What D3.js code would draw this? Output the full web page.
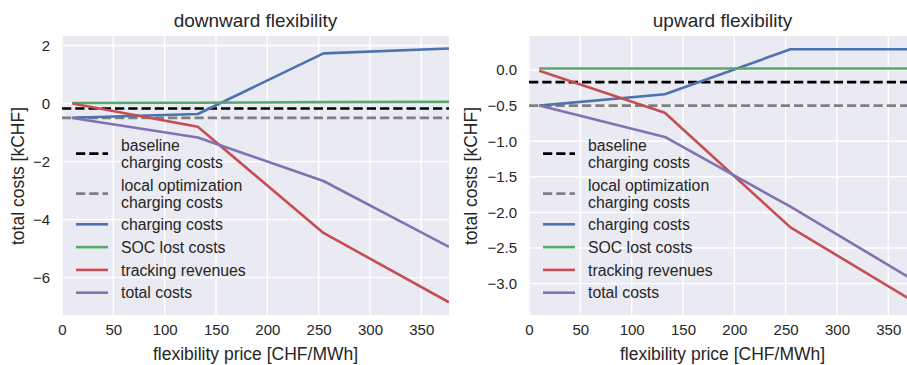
<!DOCTYPE html>
<html>
<head>
<meta charset="utf-8">
<script src="https://cdn.jsdelivr.net/npm/d3@7"></script>
<style>
  body { margin: 0; background: #ffffff; }
  svg { display: block; font-family: "Liberation Sans", Arial, sans-serif; }
</style>
</head>
<body>
<svg id="chart" width="907" height="365"></svg>
<script>
// flexibility prices [CHF/MWh] at which the runs were made
const flexPrices = [10, 132.3, 254.7, 377];
const xTicks = [0, 50, 100, 150, 200, 250, 300, 350];

// downward flexibility [kCHF]
const downCharging = [-0.49, -0.36, 1.73, 1.90];
const downSOC = [0.02, 0.03, 0.05, 0.06];
const downTracking = [0.0, -0.80, -4.46, -6.85];
const downTotal = [-0.50, -1.17, -2.67, -4.94];
const downBaseline = -0.17;
const downLocal = -0.49;
const downYTicks = [-6, -4, -2, 0, 2];

// upward flexibility [kCHF]
const upCharging = [-0.50, -0.34, 0.29, 0.29];
const upSOC = [0.02, 0.02, 0.02, 0.02];
const upTracking = [-0.01, -0.60, -2.21, -3.27];
const upTotal = [-0.50, -0.94, -1.92, -2.97];
const upBaseline = -0.17;
const upLocal = -0.50;
const upYTicks = [-3.0, -2.5, -2.0, -1.5, -1.0, -0.5, 0.0];

const seriesNames = ["charging costs", "SOC lost costs", "tracking revenues", "total costs"];
const seriesColors = ["#4C72B0", "#55A868", "#C44E52", "#8172B2"];

var svg = d3.select("#chart");

/**
 * Draws one panel: background, grid, reference lines, series, legend, labels.
 */
function drawPanel(opts) {
  var g = svg.append("g");

  var xScale = d3.scaleLinear()
    .domain([0, 377])
    .range([opts.left, opts.left + 387]);

  var yScale = d3.scaleLinear()
    .domain(opts.yDomain)
    .range([315, 36]);

  var plotW = 387, plotH = 279;

  g.append("rect")
    .attr("x", opts.left)
    .attr("y", 36)
    .attr("width", plotW)
    .attr("height", plotH)
    .attr("fill", "#EAEAF2");

  var clipId = "clip-" + opts.key;
  svg.append("clipPath")
    .attr("id", clipId)
    .append("rect")
    .attr("x", opts.left)
    .attr("y", 36)
    .attr("width", plotW)
    .attr("height", plotH);

  // grid
  g.selectAll(".vgrid")
    .data(xTicks)
    .enter().append("line")
    .attr("x1", d => xScale(d))
    .attr("x2", d => xScale(d))
    .attr("y1", 36)
    .attr("y2", 315)
    .attr("stroke", "#ffffff")
    .attr("stroke-width", 1.4);

  g.selectAll(".hgrid")
    .data(opts.yTicks)
    .enter().append("line")
    .attr("x1", opts.left)
    .attr("x2", opts.left + plotW)
    .attr("y1", d => yScale(d))
    .attr("y2", d => yScale(d))
    .attr("stroke", "#ffffff")
    .attr("stroke-width", 1.4);

  // axes (no domain line, no tick marks, like seaborn darkgrid)
  var xAxis = g.append("g")
    .attr("transform", "translate(0,315)")
    .call(d3.axisBottom(xScale).tickValues(xTicks).tickSize(0).tickPadding(9).tickFormat(d3.format("d")));
  var yAxis = g.append("g")
    .attr("transform", "translate(" + opts.left + ",0)")
    .call(d3.axisLeft(yScale).tickValues(opts.yTicks).tickSize(0).tickPadding(12).tickFormat(d3.format(opts.fmt)));
  [xAxis, yAxis].forEach(function(a) {
    a.select(".domain").remove();
    a.selectAll("text")
      .attr("fill", "#262626")
      .style("font-size", "15px")
      .style("font-family", "'Liberation Sans', Arial, sans-serif");
  });

  var plot = g.append("g").attr("clip-path", "url(#" + clipId + ")");

  // reference lines
  plot.append("line")
    .attr("x1", opts.left).attr("x2", opts.left + plotW)
    .attr("y1", yScale(opts.baseline)).attr("y2", yScale(opts.baseline))
    .attr("stroke", "#000000").attr("stroke-width", 2.7)
    .attr("stroke-dasharray", "9.25,4");
  plot.append("line")
    .attr("x1", opts.left).attr("x2", opts.left + plotW)
    .attr("y1", yScale(opts.local)).attr("y2", yScale(opts.local))
    .attr("stroke", "#808080").attr("stroke-width", 2.7)
    .attr("stroke-dasharray", "9.25,4");

  var line = d3.line()
    .x((d, i) => xScale(flexPrices[i]))
    .y(d => yScale(d));

  opts.series.forEach(function(values, i) {
    plot.append("path")
      .datum(values)
      .attr("d", line)
      .attr("fill", "none")
      .attr("stroke", seriesColors[i])
      .attr("stroke-width", 2.6)
      .attr("stroke-linejoin", "round");
  });

  // legend
  var lx0 = opts.left + 14, lx1 = opts.left + 46, tx = opts.left + 59;
  var entries = [
    { lines: ["baseline", "charging costs"], color: "#000000", dash: "9.25,4", y: 153.7, w: 2.7 },
    { lines: ["local optimization", "charging costs"], color: "#808080", dash: "9.25,4", y: 193.7, w: 2.7 }
  ];
  seriesNames.forEach(function(name, i) {
    entries.push({ lines: [name], color: seriesColors[i], dash: null, y: 224.3 + i * 22.8, w: 2.6 });
  });
  var leg = g.append("g");
  entries.forEach(function(e) {
    leg.append("line")
      .attr("x1", lx0).attr("x2", lx1)
      .attr("y1", e.y).attr("y2", e.y)
      .attr("stroke", e.color)
      .attr("stroke-width", e.w)
      .attr("stroke-dasharray", e.dash);
    var off = (e.lines.length - 1) * 17.6 / 2;
    e.lines.forEach(function(t, j) {
      leg.append("text")
        .attr("x", tx)
        .attr("y", e.y - off + j * 17.6)
        .attr("dy", "0.36em")
        .attr("fill", "#262626")
        .style("font-size", "15.8px")
        .text(t);
    });
  });

  // labels
  var cx = opts.left + plotW / 2;
  g.append("text")
    .attr("x", cx).attr("y", 27)
    .style("text-anchor", "middle")
    .style("font-size", "19px")
    .attr("fill", "#262626")
    .text(opts.title);
  g.append("text")
    .attr("x", cx).attr("y", 360)
    .style("text-anchor", "middle")
    .style("font-size", "17.5px")
    .attr("fill", "#262626")
    .text("flexibility price [CHF/MWh]");
  g.append("text")
    .attr("transform", "translate(" + opts.yLabelX + "," + 176 + ") rotate(-90)")
    .style("text-anchor", "middle")
    .style("font-size", "17.5px")
    .attr("fill", "#262626")
    .text("total costs [kCHF]");
}

drawPanel({
  key: "down",
  left: 62,
  title: "downward flexibility",
  yDomain: [-7.29, 2.33],
  yTicks: downYTicks,
  fmt: "d",
  baseline: downBaseline,
  local: downLocal,
  series: [downCharging, downSOC, downTracking, downTotal],
  yLabelX: 24
});

drawPanel({
  key: "up",
  left: 529,
  title: "upward flexibility",
  yDomain: [-3.44, 0.477],
  yTicks: upYTicks,
  fmt: ".1f",
  baseline: upBaseline,
  local: upLocal,
  series: [upCharging, upSOC, upTracking, upTotal],
  yLabelX: 477
});
</script>
</body>
</html>
